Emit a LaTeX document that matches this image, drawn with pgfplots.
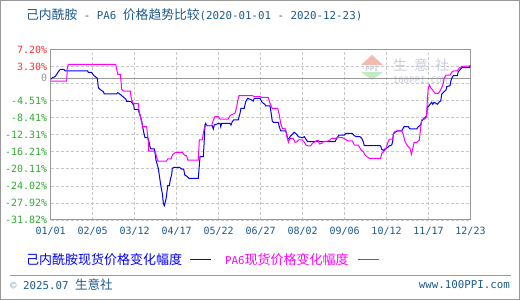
\documentclass[border=0pt]{standalone}
\usepackage{pgfplots}
\pgfplotsset{compat=1.18}
\usepackage{fontspec}
\setmainfont{DejaVu Sans Mono}
\newfontfamily\cjk{Noto Sans CJK SC}
\definecolor{titleblue}{RGB}{30,90,140}
\definecolor{labred}{RGB}{255,51,51}
\definecolor{labgreen}{RGB}{51,170,51}
\definecolor{labgray}{RGB}{150,150,150}
\definecolor{framegray}{RGB}{153,153,153}
\definecolor{gridgray}{RGB}{200,200,200}
\definecolor{wmtext}{RGB}{200,205,225}
\definecolor{wmpink}{RGB}{245,185,175}
\definecolor{wmgreen}{RGB}{195,235,195}
\definecolor{serA}{RGB}{0,0,255}
\definecolor{serB}{RGB}{255,0,255}
\newcommand{\R}[1]{\mbox{\textcolor{labred}{#1}}}
\newcommand{\G}[1]{\mbox{\textcolor{labgreen}{#1}}}
\newcommand{\T}[1]{\mbox{#1}}
\begin{document}
\begin{tikzpicture}[x=1pt,y=1pt]
\useasboundingbox (0,0) rectangle (520,300);
\fill[white] (0,0) rectangle (520,300);
\draw[framegray,line width=1pt] (0.5,0.5) rectangle (519.5,299.5);
\coordinate (AO) at (50.7,80);
% watermark
\fill[wmpink] (372,245) -- (361,235) -- (383,235) -- cycle;
\fill[wmgreen] (361,228) -- (383,228) -- (372,220) -- cycle;
\node[text=wmtext, inner sep=0, font=\bfseries\fontsize{7}{8}\selectfont] at (372,231.5) {PPI};
\node[text=wmtext, inner sep=0, font=\cjk\fontsize{14}{16}\selectfont] at (421,235) {生\hspace{7pt}意\hspace{7pt}社};
\node[text=wmtext, inner sep=0, font=\fontsize{9}{10}\selectfont] at (420,220) {100PPI.COM};
\begin{axis}[
  at={(AO)}, anchor=south west,
  scale only axis, width=419.8pt, height=170.5pt,
  xmin=0, xmax=357, ymin=-31.82, ymax=7.20,
  /pgf/number format/assume math mode=true,
  xtick={0,35.7,71.4,107.1,142.8,178.5,214.2,249.9,285.6,321.3,357},
  xticklabels={\T{01/01},\T{02/05},\T{03/12},\T{04/17},\T{05/22},\T{06/27},\T{08/02},\T{09/06},\T{10/12},\T{11/17},\T{12/23}},
  ytick={7.2,3.3,-0.6,-4.51,-8.41,-12.31,-16.21,-20.11,-24.02,-27.92,-31.82},
  yticklabels={\R{7.20\%},\R{3.30\%},{},\G{-4.51\%},\G{-8.41\%},\G{-12.31\%},\G{-16.21\%},\G{-20.11\%},\G{-24.02\%},\G{-27.92\%},\G{-31.82\%}},
  extra y ticks={0.6},
  extra y tick labels={\mbox{\textcolor{labgray}{0}}},
  extra y tick style={grid=major, major grid style={solid, framegray, line width=1pt}},
  xticklabel style={font=\fontsize{10}{12}\selectfont, text=titleblue, yshift=-4pt},
  yticklabel style={font=\fontsize{10}{12}\selectfont},
  grid=major,
  major grid style={gridgray, line width=0.8pt, dash pattern=on 3pt off 2pt},
  axis line style={framegray, line width=1pt},
  major tick length=0pt,
  tick style={draw=none},
]
\addplot[serA, line width=1pt, mark=none] coordinates {
(0,0.37)(1.4,0.75)(3.7,0.98)(5.1,1.52)(6.5,2.13)(8.2,2.66)(11,2.66)(12.5,2.28)(31.4,2.28)(32,1.97)(34.8,1.97)(36.3,1.36)(38.2,0.91)(39.7,0.6)(40.5,-1.53)(41.9,-1.92)(44.8,-2.45)(45.6,-2.98)(56.1,-2.98)(57,-2.68)(59.8,-3.21)(61.8,-3.67)(64,-4.2)(64.5,-4.66)(68.3,-4.66)(69.4,-5.12)(70.6,-5.5)(71.1,-6.49)(74.5,-6.49)(75.4,-7.41)(76.5,-8.4)(77.4,-9.16)(78.2,-10.46)(79.1,-11.76)(80.2,-12.98)(82.5,-12.98)(83.6,-13.89)(84.4,-15.04)(85.3,-15.57)(88.1,-15.57)(89,-16.94)(89.5,-18.09)(90.7,-19.23)(91.5,-20.0)(92.4,-21.67)
(93.8,-24.2)(94.9,-25.71)(95.8,-28.0)(96.6,-28.55)(98.1,-27.01)(98.9,-25.34)(99.5,-23.97)(100.9,-23.97)(101.7,-22.67)(102.9,-21.36)(103.4,-19.99)(104.9,-19.76)(109.4,-19.76)(111.4,-20.15)(113.1,-20.15)(114,-21.52)(115.9,-21.82)(117.6,-22.28)(125.5,-22.28)(127,-17.33)(129.8,-17.33)(130.6,-13.51)(131.2,-10.08)(131.8,-9.69)(132.7,-10.24)(137.4,-10.24)(138.3,-10.99)(139.1,-10.08)(143.1,-9.69)(144,-9.69)(144.6,-10.47)(145.4,-9.69)(152.5,-9.69)(153.3,-10.08)(154.4,-9.32)(155.6,-8.93)(159.5,-8.93)(161,-7.4)(161.8,-6.26)(164.6,-6.26)(165.8,-4.75)(167.5,-3.97)(170.9,-4.36)(172.3,-4.59)(173.1,-3.97)(178,-3.97)(179.4,-4.75)(180.8,-5.11)(182.2,-5.34)(182.8,-5.73)(186.5,-5.73)(187.3,-7.03)(188.4,-9.16)(189.3,-9.46)(193.5,-9.46)(194.4,-10.47)(195.6,-11.45)(199.8,-11.45)(200.7,-12.21)(201.5,-13.12)(202.6,-13.28)(203.5,-12.76)(204.9,-12.37)(207.2,-11.75)(209.2,-12.21)(210.6,-12.76)(214,-12.98)(215.7,-12.76)(216.9,-13.28)(218.6,-13.9)(241.8,-13.9)(243.2,-13.12)(245.2,-12.37)(249.7,-12.37)(251.1,-11.98)(256.5,-11.98)(258.2,-12.53)(260.2,-12.76)(263,-12.76)(264.5,-13.12)(265.8,-13.9)(266.7,-14.82)(280,-14.82)(280.6,-14.88)(281.5,-15.64)(282.8,-15.87)(284.3,-15.57)(286.2,-15.27)(287.9,-14.88)(290,-14.66)(290.8,-13.9)(291.3,-12.21)(292.8,-11.75)(294.8,-11.45)(298.5,-11.45)(299.4,-10.99)(300.5,-10.47)(304.1,-10.47)(305.5,-10.99)(311.3,-10.99)(312.6,-10.47)(314.6,-10.08)(315.5,-9.16)(317.5,-8.55)(318.3,-8.41)(319.7,-7.95)(320.3,-5.89)(321.1,-5.89)(322.6,-5.34)(324,-4.88)(324.9,-5.34)(326,-4.88)(327.7,-5.11)(328.8,-5.34)(330.5,-4.75)(331.7,-4.59)(332.5,-3.05)(334.5,-2.46)(336.2,-2.07)(336.8,-1.31)(339.6,-1.08)(340.2,-0.17)(341,0.61)(342.4,1.2)(345.8,1.2)(346.6,2.12)(348.7,2.74)(349.5,3.03)(356,3.03)(357,3.65)
};
\addplot[serB, line width=1pt, mark=none] coordinates {
(0,-0.01)(13.6,-0.01)(14.1,2.89)(15,3.81)(55.2,3.81)(56.1,2.74)(57,1.52)(59.2,1.52)(59.8,-0.16)(60.4,-1.92)(61.8,-2.3)(67.7,-2.3)(68.3,-3.59)(69.4,-4.74)(70.3,-5.2)(74.5,-5.2)(75.1,-6.64)(76.5,-8.4)(77.4,-9.47)(78.2,-10.46)(81.6,-10.46)(82.2,-11.98)(83,-13.89)(83.3,-16.03)(88.7,-16.03)(91,-18.32)(98.6,-18.32)(99.5,-17.86)(102.3,-17.86)(103.4,-16.94)(106.3,-16.33)(111.9,-16.33)(113.6,-16.94)(115.7,-17.17)(116.5,-18.09)(125.5,-18.09)(126.4,-13.51)(128.9,-13.51)(129.8,-11.98)(130.6,-10.83)(131.8,-10.24)(136.9,-10.24)(138.3,-8.93)(139.7,-8.18)(142.5,-8.18)(144,-8.71)(151,-8.71)(152.5,-7.95)(154.4,-7.63)(156.7,-7.4)(158.2,-5.89)(159,-4.59)(160.1,-3.37)(171.4,-3.37)(173.7,-3.6)(178,-3.6)(179.4,-3.74)(185,-3.74)(186.5,-5.11)(188.4,-6.26)(193,-6.26)(194.1,-7.4)(195.6,-9.69)(197,-10.83)(199.8,-10.99)(200.9,-12.76)(202.1,-14.04)(203.5,-13.12)(206.3,-13.12)(207.8,-14.04)(209.7,-13.9)(210.6,-13.51)(214,-13.51)(215.7,-14.04)(216.9,-14.66)(219.1,-14.88)(221.1,-14.88)(222.5,-14.27)(224.8,-13.9)(226.2,-13.67)(227.6,-13.67)(228.4,-14.43)(230.5,-14.27)(231.8,-13.9)(236.1,-13.74)(237.5,-13.51)(239,-13.12)(242.4,-13.12)(244.6,-12.89)(248,-12.98)(250.3,-13.28)(252.6,-13.74)(256.5,-13.74)(258.2,-14.66)(261.6,-14.66)(263.9,-15.8)(265.8,-16.19)(267.3,-16.94)(270.7,-17.7)(280.6,-17.7)(281.5,-16.55)(282.8,-16.33)(284.3,-15.8)(285.7,-15.04)(287.1,-13.74)(288,-13.35)(290.8,-13.28)(291.9,-11.75)(293.7,-11.45)(298.5,-11.45)(299.8,-12.21)(301.3,-13.9)(302.7,-14.5)(304.1,-15.04)(305.5,-15.41)(306.7,-16.78)(307.8,-15.57)(309,-14.04)(311.3,-14.04)(313.5,-13.51)(314.1,-11.98)(315.5,-8.93)(316.9,-8.71)(318.3,-8.71)(319.7,-8.18)(320.3,-4.36)(321.1,-1.68)(322,-0.92)(323.2,-1.54)(324.9,-2.07)(326.8,-2.82)(329.6,-2.82)(331.1,-2.3)(332.5,-1.54)(333.9,-0.54)(334.5,0.61)(336.2,1.36)(339.6,1.36)(341,1.98)(342.4,2.28)(345.8,2.28)(347.5,3.03)(349.5,3.26)(353.7,3.42)(356,3.42)(357,3.54)
};
\end{axis}
% title
\node[anchor=west, inner sep=0, text=titleblue] at (26,285) {{\cjk\fontsize{12.8}{14}\selectfont 己内酰胺}{\fontsize{10.8}{13}\selectfont\ -\ PA6\ }{\cjk\fontsize{12.8}{14}\selectfont 价格趋势比较}{\fontsize{10.8}{13}\selectfont(2020-01-01 - 2020-12-23)}};
% legend
\node[anchor=west, inner sep=0, text=serA] at (26,40) {\cjk\fontsize{13}{15}\selectfont 己内酰胺现货价格变化幅度};
\draw[serA, line width=1pt] (190,40) -- (211,40);
\node[anchor=west, inner sep=0, text=serB] at (225,40) {{\fontsize{10.8}{13}\selectfont PA6}{\cjk\fontsize{13}{15}\selectfont 现货价格变化幅度}};
\draw[serB, line width=1pt] (358.3,40) -- (379,40);
% footer
\draw[framegray, line width=1pt] (10,24) -- (510.7,24);
\node[anchor=west, inner sep=0, text=titleblue] at (10,15) {{\fontsize{10.8}{13}\selectfont\textcolor{wmtext!70!titleblue}{©} 2025.07 }{\cjk\fontsize{12.5}{14}\selectfont 生意社}};
\node[anchor=east, inner sep=0, text=titleblue, font=\fontsize{10.8}{13}\selectfont] at (510,15) {www.100PPI.com};
\end{tikzpicture}
\end{document}
